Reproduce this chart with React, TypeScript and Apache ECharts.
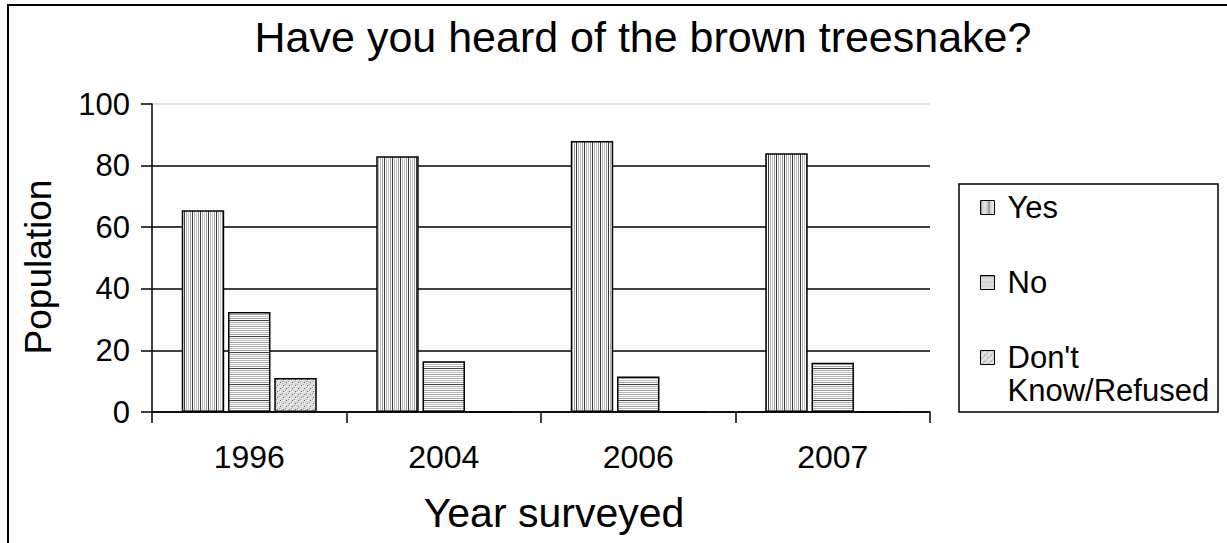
import React, { useEffect, useRef } from 'react';
import * as echarts from 'echarts';

const categories = ['1996', '2004', '2006', '2007'];
const yesValues = [65.5, 83, 88, 84];
const noValues = [32.5, 16.5, 11.5, 16];
const dkValues = [11, 0, 0, 0];
const seriesNames = ['Yes', 'No', "Don't Know/Refused"];
const legendLabels: Record<string, string> = {
  Yes: '\nYes\n',
  No: '\nNo\n',
  "Don't Know/Refused": "\nDon't\nKnow/Refused",
};
const chartTitle = 'Have you heard of the brown treesnake?';
const yAxisName = 'Population';
const xAxisName = 'Year surveyed';

const FONT = '"Liberation Sans", Arial, sans-serif';

function makePattern(w: number, h: number, draw: (ctx: CanvasRenderingContext2D) => void) {
  const c = document.createElement('canvas');
  c.width = w;
  c.height = h;
  const ctx = c.getContext('2d') as CanvasRenderingContext2D;
  draw(ctx);
  return { image: c, repeat: 'repeat' } as any;
}

export default function App() {
  const ref = useRef<HTMLDivElement>(null);
  useEffect(() => {
    if (!ref.current) return;
    const chart = echarts.init(ref.current, undefined, { renderer: 'svg' });

    const vCols = ['#3a3a3a', '#ffffff', '#b0b0b0', '#ffffff', '#c4c4c4', '#ffffff', '#9a9a9a', '#ffffff'];
    const yesPattern = makePattern(vCols.length, 4, (ctx) => {
      vCols.forEach((c, i) => { ctx.fillStyle = c; ctx.fillRect(i, 0, 1, 4); });
    });
    const hRows = ['#404040', '#ffffff', '#a8a8a8', '#ffffff', '#c0c0c0', '#ffffff', '#a0a0a0', '#ffffff',
      '#b8b8b8', '#ffffff', '#a8a8a8', '#ffffff', '#c0c0c0', '#ffffff', '#a0a0a0', '#ffffff'];
    const noPattern = makePattern(4, hRows.length, (ctx) => {
      hRows.forEach((c, i) => { ctx.fillStyle = c; ctx.fillRect(0, i, 4, 1); });
    });
    const dkPattern = makePattern(6, 6, (ctx) => {
      ctx.fillStyle = '#dcdcdc'; ctx.fillRect(0, 0, 6, 6);
      ctx.fillStyle = '#6e6e6e'; ctx.fillRect(1, 1, 1, 1); ctx.fillRect(4, 4, 1, 1);
      ctx.fillStyle = '#ffffff'; ctx.fillRect(4, 1, 1, 1); ctx.fillRect(1, 4, 1, 1); ctx.fillRect(2, 2, 1, 1);
      ctx.fillStyle = '#a0a0a0'; ctx.fillRect(0, 3, 1, 1); ctx.fillRect(3, 0, 1, 1);
    });
    const patterns = [yesPattern, noPattern, dkPattern];
    const dataSets = [yesValues, noValues, dkValues];

    const option: any = {
      animation: false,
      backgroundColor: '#ffffff',
      textStyle: { fontFamily: FONT, color: '#000' },
      title: {
        text: chartTitle,
        left: 638,
        top: 10,
        textAlign: 'center',
        textStyle: { fontFamily: FONT, fontSize: 43, fontWeight: 'normal', color: '#000' },
      },
      grid: { left: 152, right: 297, top: 104, bottom: 131, containLabel: false },
      legend: {
        orient: 'vertical',
        left: 980,
        top: 158,
        padding: 0,
        itemGap: -24,
        itemWidth: 14,
        itemHeight: 14,
        icon: 'rect',
        data: seriesNames,
        formatter: (name: string) => legendLabels[name] || name,
        textStyle: { fontFamily: FONT, fontSize: 31, color: '#000', lineHeight: 33, padding: [0, 0, 0, 8] },
        itemStyle: { borderColor: '#000', borderWidth: 1 },
      },
      xAxis: {
        type: 'category',
        data: categories,
        name: xAxisName,
        nameLocation: 'middle',
        nameGap: 80,
        nameTextStyle: { fontFamily: FONT, fontSize: 41, color: '#000', padding: [0, 0, 0, 26] },
        axisLine: { lineStyle: { color: '#000', width: 1.5 } },
        axisTick: { show: true, length: 11, lineStyle: { color: '#000', width: 1.5 } },
        axisLabel: { fontFamily: FONT, fontSize: 32, color: '#000', margin: 29 },
        splitLine: { show: false },
      },
      yAxis: {
        type: 'value',
        min: 0,
        max: 100,
        interval: 20,
        name: yAxisName,
        nameLocation: 'middle',
        nameGap: 95,
        nameRotate: 90,
        nameTextStyle: { fontFamily: FONT, fontSize: 37, color: '#000', padding: [0, 18, 0, 0] },
        axisLine: { show: true, lineStyle: { color: '#000', width: 1.5 } },
        axisTick: { show: true, length: 11, lineStyle: { color: '#000', width: 1.5 } },
        axisLabel: { fontFamily: FONT, fontSize: 31, color: '#000', margin: 22 },
        splitLine: {
          show: true,
          lineStyle: { color: ['#000', '#000', '#000', '#000', '#000', '#d9d9d9'], width: 1.5 },
        },
      },
      graphic: [
        {
          type: 'rect',
          silent: true,
          z: -10,
          shape: { x: 8, y: 5, width: 1400, height: 700 },
          style: { fill: 'none', stroke: '#000', lineWidth: 2 },
        },
        {
          type: 'rect',
          silent: true,
          shape: { x: 959, y: 184, width: 259, height: 228 },
          style: { fill: 'none', stroke: '#000', lineWidth: 1.5 },
        },
      ],
      series: seriesNames.map((name, i) => ({
        name,
        type: 'bar',
        data: dataSets[i],
        barGap: '9%',
        barCategoryGap: '30.6%',
        itemStyle: { color: patterns[i], borderColor: '#000', borderWidth: 1.5 },
      })),
    };
    chart.setOption(option);
    return () => chart.dispose();
  }, []);
  return (
    <div
      ref={ref}
      style={{ position: 'absolute', left: 0, top: 0, width: 1227, height: 543, background: '#fff' }}
    />
  );
}
